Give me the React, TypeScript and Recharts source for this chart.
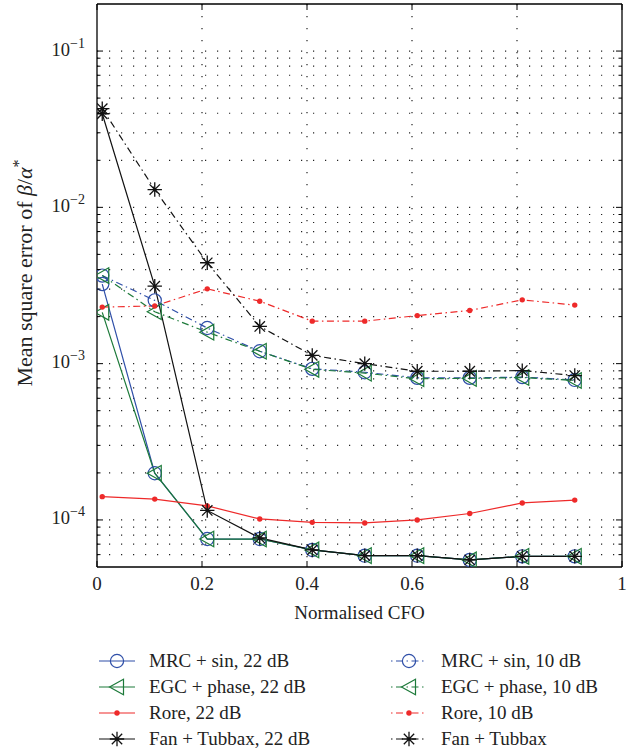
import React from 'react';
import { LineChart, Line, XAxis, YAxis, CartesianGrid, Label } from 'recharts';

// ---- data ----
const cfo = [0.01, 0.11, 0.21, 0.31, 0.41, 0.51, 0.61, 0.71, 0.81, 0.91];
const mrc22 = [0.00323, 0.000199, 0.0000755, 0.0000755, 0.0000643, 0.0000591, 0.0000591, 0.0000555, 0.0000585, 0.0000585];
const egc22 = [0.00213, 0.000199, 0.0000755, 0.0000755, 0.0000643, 0.0000591, 0.0000591, 0.0000555, 0.0000585, 0.0000585];
const rore22 = [0.000141, 0.000136, 0.000123, 0.0001015, 0.0000965, 0.0000957, 0.0001, 0.00011, 0.0001285, 0.000134];
const fan22 = [0.0397, 0.00313, 0.000115, 0.0000767, 0.0000643, 0.0000591, 0.0000591, 0.0000555, 0.0000585, 0.0000585];
const mrc10 = [0.00366, 0.00254, 0.00169, 0.0012, 0.000926, 0.000881, 0.000811, 0.000811, 0.00082, 0.000787];
const egc10 = [0.00366, 0.00215, 0.00159, 0.0012, 0.00092, 0.00087, 0.0008, 0.000805, 0.000815, 0.00078];
const rore10 = [0.0023, 0.00234, 0.00301, 0.00251, 0.00187, 0.00187, 0.00203, 0.00219, 0.00256, 0.00237];
const fan10 = [0.0428, 0.013, 0.00442, 0.00173, 0.00113, 0.001, 0.000894, 0.000894, 0.000903, 0.000839];

const xTicks = [0, 0.2, 0.4, 0.6, 0.8, 1];
const xTickLabels = ['0', '0.2', '0.4', '0.6', '0.8', '1'];
const xGrid = [0.2, 0.4, 0.6, 0.8];
const yDomain: [number, number] = [5e-5, 0.2];
const yMajor = [1e-4, 1e-3, 1e-2, 1e-1];
const yMajorExp = ['−4', '−3', '−2', '−1'];
const yMinor = [
  6e-5, 7e-5, 8e-5, 9e-5,
  2e-4, 3e-4, 4e-4, 5e-4, 6e-4, 7e-4, 8e-4, 9e-4,
  2e-3, 3e-3, 4e-3, 5e-3, 6e-3, 7e-3, 8e-3, 9e-3,
  2e-2, 3e-2, 4e-2, 5e-2, 6e-2, 7e-2, 8e-2, 9e-2,
];
const yAll = [...yMinor, ...yMajor].sort((a, b) => a - b);

const BLUE = '#2f4fa8';
const GREEN = '#1d7a3a';
const RED = '#ee2a2a';
const BLACK = '#111111';
const DASHDOT = '7 3.5 1.5 3.5';
const FONT = '"Liberation Serif", "Times New Roman", serif';

type Kind = 'circle' | 'tri' | 'dot' | 'star';
const series: { key: string; name: string; color: string; marker: Kind; dash?: string; values: number[] }[] = [
  { key: 'mrc22', name: 'MRC + sin, 22 dB', color: BLUE, marker: 'circle', values: mrc22 },
  { key: 'egc22', name: 'EGC + phase, 22 dB', color: GREEN, marker: 'tri', values: egc22 },
  { key: 'rore22', name: 'Rore, 22 dB', color: RED, marker: 'dot', values: rore22 },
  { key: 'fan22', name: 'Fan + Tubbax, 22 dB', color: BLACK, marker: 'star', values: fan22 },
  { key: 'mrc10', name: 'MRC + sin, 10 dB', color: BLUE, marker: 'circle', dash: DASHDOT, values: mrc10 },
  { key: 'egc10', name: 'EGC + phase, 10 dB', color: GREEN, marker: 'tri', dash: DASHDOT, values: egc10 },
  { key: 'rore10', name: 'Rore, 10 dB', color: RED, marker: 'dot', dash: DASHDOT, values: rore10 },
  { key: 'fan10', name: 'Fan + Tubbax', color: BLACK, marker: 'star', dash: DASHDOT, values: fan10 },
];

const data = cfo.map((x, i) => {
  const row: Record<string, number> = { x };
  series.forEach((s) => { row[s.key] = s.values[i]; });
  return row;
});

function Marker({ kind, cx, cy, color }: { kind: Kind; cx: number; cy: number; color: string }) {
  if (kind === 'circle') return <circle cx={cx} cy={cy} r={6.6} fill="none" stroke={color} strokeWidth={1.2} />;
  if (kind === 'tri')
    return (
      <polygon
        points={`${cx - 7.5},${cy} ${cx + 6.5},${cy - 7.8} ${cx + 6.5},${cy + 7.8}`}
        fill="none" stroke={color} strokeWidth={1.2}
      />
    );
  if (kind === 'dot') return <circle cx={cx} cy={cy} r={2.7} fill={color} stroke="none" />;
  const r = 7.2;
  const d = r * 0.72;
  return (
    <path
      d={`M${cx - r},${cy}H${cx + r}M${cx},${cy - r}V${cy + r}M${cx - d},${cy - d}L${cx + d},${cy + d}M${cx - d},${cy + d}L${cx + d},${cy - d}`}
      stroke={color} strokeWidth={1.3} fill="none"
    />
  );
}

const isMajor = (v: number) => yMajor.some((m) => Math.abs(m - v) / m < 1e-6);

const YTickLeft = (props: any) => {
  const { x, y, payload } = props;
  const v = payload.value;
  const major = isMajor(v);
  const idx = yMajor.findIndex((m) => Math.abs(m - v) / m < 1e-6);
  return (
    <g>
      <line x1={x} x2={x + (major ? 6 : 3.5)} y1={y} y2={y} stroke="#000" strokeWidth={1} />
      {major && (
        <text x={x - 12} y={y + 4.5} textAnchor="end" fontFamily={FONT} fontSize={18.5} fill="#222">
          <tspan>10</tspan>
          <tspan dy={-8} fontSize={14}>{yMajorExp[idx]}</tspan>
        </text>
      )}
    </g>
  );
};

const YTickRight = (props: any) => {
  const { x, y, payload } = props;
  const major = isMajor(payload.value);
  return <line x1={x} x2={x - (major ? 6 : 3.5)} y1={y} y2={y} stroke="#000" strokeWidth={1} />;
};

const XTickBottom = (props: any) => {
  const { x, y, payload, index } = props;
  const i = xTicks.indexOf(payload.value);
  return (
    <g>
      <line x1={x} x2={x} y1={y} y2={y - 6} stroke="#000" strokeWidth={1} />
      <text x={x} y={y + 23} textAnchor="middle" fontFamily={FONT} fontSize={19} fill="#222">
        {xTickLabels[i >= 0 ? i : index]}
      </text>
    </g>
  );
};

const XTickTop = (props: any) => {
  const { x, y } = props;
  return <line x1={x} x2={x} y1={y} y2={y + 6} stroke="#000" strokeWidth={1} />;
};

const YLabel = (props: any) => {
  const vb = props.viewBox || { x: 0, y: 0, width: 0, height: 0 };
  const cy = vb.y + vb.height / 2 - 12.5;
  return (
    <text
      transform={`translate(32, ${cy}) rotate(-90)`}
      textAnchor="middle" fontFamily={FONT} fontSize={22} fill="#222"
    >
      <tspan>Mean square error of </tspan>
      <tspan fontStyle="italic">β</tspan>
      <tspan>/</tspan>
      <tspan fontStyle="italic">α</tspan>
      <tspan dy={-8} fontSize={16}>*</tspan>
    </text>
  );
};

const XLabel = (props: any) => {
  const vb = props.viewBox || { x: 0, y: 0, width: 0, height: 0 };
  return (
    <text x={vb.x + vb.width / 2} y={vb.y + 52} textAnchor="middle" fontFamily={FONT} fontSize={19} fill="#222">
      Normalised CFO
    </text>
  );
};

function LegendItem({ s }: { s: (typeof series)[number] }) {
  return (
    <div style={{ display: 'flex', alignItems: 'center', height: 26 }}>
      <svg width={36} height={20} style={{ flex: 'none' }}>
        <line x1={0} x2={36} y1={10} y2={10} stroke={s.color} strokeWidth={1.2}
          strokeDasharray={s.dash} strokeDashoffset={s.dash ? 10.5 : undefined} />
        <Marker kind={s.marker} cx={18} cy={10} color={s.color} />
      </svg>
      <span style={{ marginLeft: 14, fontFamily: FONT, fontSize: 19, color: '#222', whiteSpace: 'nowrap' }}>{s.name}</span>
    </div>
  );
}

export default function App() {
  const left = series.filter((s) => !s.dash);
  const right = series.filter((s) => s.dash);
  return (
    <div style={{ position: 'absolute', left: 0, top: 0, width: 638, height: 753, background: '#fff' }}>
      <LineChart width={638} height={640} data={data} margin={{ top: 0, right: 0, bottom: 43, left: 37 }}>
        <CartesianGrid
          horizontalValues={yAll}
          verticalValues={xGrid}
          stroke="#222"
          strokeWidth={1.2}
          strokeDasharray="1.2 10.8"
        />
        <XAxis
          dataKey="x" type="number" domain={[0, 1]} ticks={xTicks} interval={0}
          height={30} tickSize={0} tickMargin={0} tickLine={false}
          axisLine={{ stroke: '#000', strokeWidth: 1.3 }}
          tick={<XTickBottom />} allowDataOverflow
        >
          <Label content={<XLabel />} />
        </XAxis>
        <XAxis
          xAxisId="top" orientation="top" dataKey="x" type="number" domain={[0, 1]} ticks={xTicks} interval={0}
          height={4} tickSize={0} tickMargin={0} tickLine={false}
          axisLine={{ stroke: '#000', strokeWidth: 1.3 }}
          tick={<XTickTop />} allowDataOverflow
        />
        <YAxis
          scale="log" type="number" domain={yDomain} ticks={yAll} interval={0} allowDataOverflow
          width={60} tickSize={0} tickMargin={0} tickLine={false}
          axisLine={{ stroke: '#000', strokeWidth: 1.3 }}
          tick={<YTickLeft />}
        >
          <Label content={<YLabel />} />
        </YAxis>
        <YAxis
          yAxisId="r" orientation="right" scale="log" type="number" domain={yDomain} ticks={yAll} interval={0}
          allowDataOverflow width={16} tickSize={0} tickMargin={0} tickLine={false}
          axisLine={{ stroke: '#000', strokeWidth: 1.3 }}
          tick={<YTickRight />}
        />
        {series.map((s) => (
          <Line
            key={s.key}
            dataKey={s.key}
            type="linear"
            stroke={s.color}
            strokeWidth={1.2}
            strokeDasharray={s.dash}
            isAnimationActive={false}
            dot={(p: any) => <Marker key={`${s.key}-${p.index}`} kind={s.marker} cx={p.cx} cy={p.cy} color={s.color} />}
            activeDot={false}
          />
        ))}
      </LineChart>
      <div style={{ position: 'absolute', left: 99, top: 648, display: 'flex' }}>
        <div style={{ width: 292 }}>
          {left.map((s) => <LegendItem key={s.key} s={s} />)}
        </div>
        <div>
          {right.map((s) => <LegendItem key={s.key} s={s} />)}
        </div>
      </div>
    </div>
  );
}
